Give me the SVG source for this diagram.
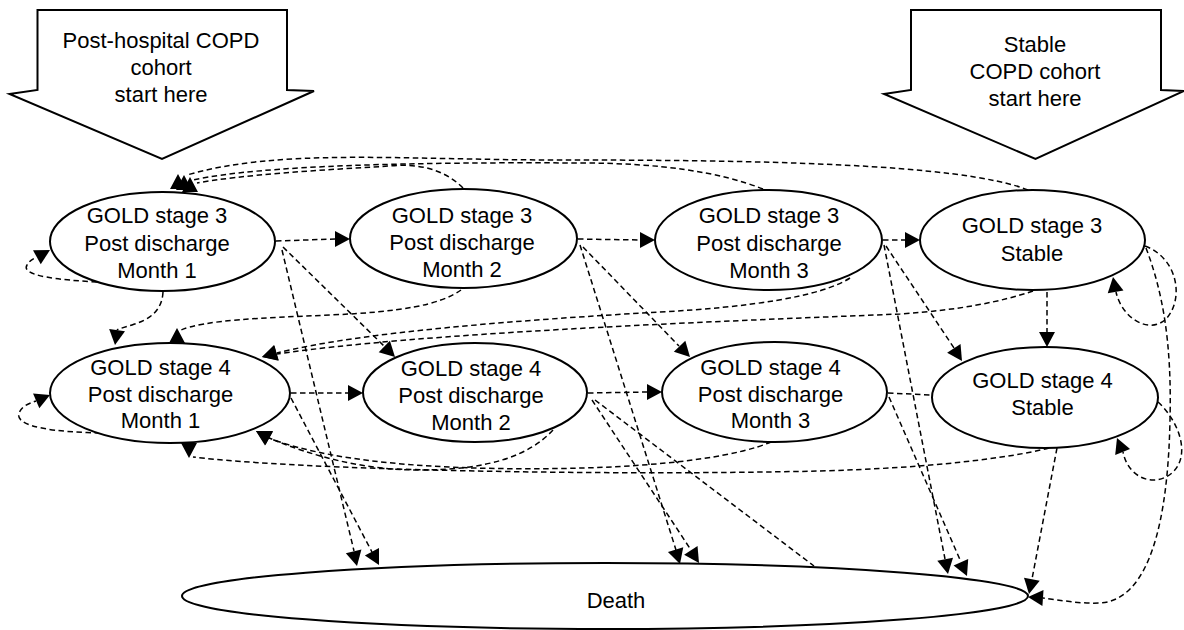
<svg xmlns="http://www.w3.org/2000/svg" xmlns:xlink="http://www.w3.org/1999/xlink" width="1184" height="630" viewBox="0 0 1184 630">
<style>
  .shape{fill:#fff;stroke:#000;stroke-width:2}
  .t{font-family:"Liberation Sans",Arial,sans-serif;font-size:22px;fill:#000;text-anchor:middle}
  .c path{fill:none;stroke:#000;stroke-width:1.5;stroke-dasharray:5.5 3.5}
  .c use{fill:#000}
</style>
<defs>
  <path id="ah" d="M0,0 L-15,-8 L-15,8 Z"/>
</defs>
<rect width="1184" height="630" fill="#fff"/>

<g id="start-posthospital">
  <path class="shape" d="M37.5,10 H287 V90 L314,91 L162,159 L9.5,94 L37.5,90 Z"/>
  <text class="t" x="161" y="48">Post-hospital COPD<tspan x="161" dy="27">cohort</tspan><tspan x="161" dy="27">start here</tspan></text>
</g>
<g id="start-stable">
  <path class="shape" d="M911,10 H1161 V90 L1184,91 L1035.5,159 L884,94 L911,90 Z"/>
  <text class="t" x="1035" y="52">Stable<tspan x="1035" dy="27">COPD cohort</tspan><tspan x="1035" dy="27">start here</tspan></text>
</g>

<g id="connectors" class="c">
  <g id="c-e1-e2"><path d="M276,241 L335,239"/><use xlink:href="#ah" transform="translate(350,239)"/></g>
  <g id="c-e2-e3"><path d="M578,239 L640,240"/><use xlink:href="#ah" transform="translate(655,240)"/></g>
  <g id="c-e3-e4"><path d="M883,240 L905,240"/><use xlink:href="#ah" transform="translate(920,240)"/></g>
  <g id="c-e5-e6"><path d="M291,393 L348,393"/><use xlink:href="#ah" transform="translate(363,393)"/></g>
  <g id="c-e6-e7"><path d="M588,393 L647,392"/><use xlink:href="#ah" transform="translate(662,392)"/></g>
  <g id="c-e7-e8"><path d="M888,393 L932,395"/></g>

  <g id="c-e1-loop"><path d="M97,282 C60,280 20,276 27,265 C30,260 33,259 37,257"/><use xlink:href="#ah" transform="translate(50,250) rotate(-29)"/></g>
  <g id="c-e5-loop"><path d="M100,433 C60,432 14,428 19,413 C22,406 28,404 36,401"/><use xlink:href="#ah" transform="translate(50,395) rotate(-23)"/></g>
  <g id="c-e4-loop"><path d="M1145,246 C1178,258 1185,300 1165,320 C1148,334 1122,318 1116,292"/><use xlink:href="#ah" transform="translate(1113,277) rotate(-100)"/></g>
  <g id="c-e8-loop"><path d="M1158,402 C1178,420 1192,455 1172,473 C1154,488 1128,478 1123,452"/><use xlink:href="#ah" transform="translate(1117,438) rotate(-112)"/></g>

  <g id="c-e1-e5"><path d="M163,292 C162,312 148,320 132,325 C122,328 118,329 117,330"/><use xlink:href="#ah" transform="translate(115,345) rotate(98)"/></g>
  <g id="c-e4-e8"><path d="M1047,292 L1047,332"/><use xlink:href="#ah" transform="translate(1047,347) rotate(90)"/></g>

  <g id="c-e4-e1"><path d="M1028,190 C960,163 750,160 560,160 C400,160 280,148 187,175"/><use xlink:href="#ah" transform="translate(178,174) rotate(-90)"/></g>
  <g id="c-e3-e1"><path d="M763,189 C720,172 660,163 580,163 C420,162 260,165 193,180"/><use xlink:href="#ah" transform="translate(184,175) rotate(-90)"/></g>
  <g id="c-e2-e1"><path d="M463,188 C445,170 420,163 390,166 C320,170 240,175 197,183"/><use xlink:href="#ah" transform="translate(190,177) rotate(-90)"/></g>

  <g id="c-e2-e5"><path d="M461,290 C440,305 400,312 330,315 C260,318 205,320 181,330"/><use xlink:href="#ah" transform="translate(177,328) rotate(-90)"/></g>
  <g id="c-e3-e5"><path d="M850,278 C820,297 750,307 660,312 C520,320 360,332 277,353"/><use xlink:href="#ah" transform="translate(262,357) rotate(165)"/></g>
  <g id="c-e4-e5"><path d="M1033,291 C1000,302 960,310 900,314 C700,322 420,333 277,354"/><use xlink:href="#ah" transform="translate(262,357) rotate(163)"/></g>

  <g id="c-e6-e5"><path d="M553,430 C530,455 490,470 420,470 C360,470 310,455 269,438"/><use xlink:href="#ah" transform="translate(256,431) rotate(208)"/></g>
  <g id="c-e7-e5"><path d="M771,442 C740,455 680,465 584,468 C470,471 340,466 269,438"/><use xlink:href="#ah" transform="translate(256,431) rotate(210)"/></g>
  <g id="c-e8-e5"><path d="M1049,448 C1010,458 930,468 820,471 C600,476 300,470 193,457"/><use xlink:href="#ah" transform="translate(189,458) rotate(90)"/></g>

  <g id="c-e1-e6"><path d="M283,247 L384,346"/><use xlink:href="#ah" transform="translate(395,357) rotate(44.5)"/></g>
  <g id="c-e2-e7"><path d="M583,247 L679,346"/><use xlink:href="#ah" transform="translate(690,357) rotate(46)"/></g>
  <g id="c-e3-e8"><path d="M886,246 L954,348"/><use xlink:href="#ah" transform="translate(962,361) rotate(57)"/></g>

  <g id="c-e1-death"><path d="M282,250 L354,551"/><use xlink:href="#ah" transform="translate(357,566) rotate(77)"/></g>
  <g id="c-e5-death"><path d="M291,398 L372,552"/><use xlink:href="#ah" transform="translate(379,565) rotate(62)"/></g>
  <g id="c-e2-death"><path d="M580,245 L676,550"/><use xlink:href="#ah" transform="translate(680,564) rotate(73)"/></g>
  <g id="c-e6-death"><path d="M592,400 L691,550"/><use xlink:href="#ah" transform="translate(699,563) rotate(57)"/></g>
  <g id="c-e6-death2"><path d="M595,400 L814,566"/></g>
  <g id="c-e3-death"><path d="M884,245 L945,559"/><use xlink:href="#ah" transform="translate(948,574) rotate(79)"/></g>
  <g id="c-e7-death"><path d="M889,397 L961,562"/><use xlink:href="#ah" transform="translate(967,576) rotate(66)"/></g>
  <g id="c-e8-death"><path d="M1057,448 L1032,579"/><use xlink:href="#ah" transform="translate(1029,594) rotate(101)"/></g>
  <g id="c-e4-death"><path d="M1146,248 C1162,290 1172,340 1170,420 C1168,520 1150,600 1100,603 C1080,604 1060,600 1043,598"/><use xlink:href="#ah" transform="translate(1028,597) rotate(184)"/></g>
</g>

<g id="e1">
  <ellipse class="shape" cx="162.5" cy="241.5" rx="112.5" ry="49.5"/>
  <text class="t" x="157" y="223">GOLD stage 3<tspan x="157" dy="28">Post discharge</tspan><tspan x="157" dy="27">Month 1</tspan></text>
</g>
<g id="e2">
  <ellipse class="shape" cx="463.5" cy="238.5" rx="113.5" ry="49.5"/>
  <text class="t" x="462" y="223">GOLD stage 3<tspan x="462" dy="27">Post discharge</tspan><tspan x="462" dy="27">Month 2</tspan></text>
</g>
<g id="e3">
  <ellipse class="shape" cx="768.5" cy="240" rx="113.5" ry="50"/>
  <text class="t" x="769" y="223">GOLD stage 3<tspan x="769" dy="28">Post discharge</tspan><tspan x="769" dy="27">Month 3</tspan></text>
</g>
<g id="e4">
  <ellipse class="shape" cx="1032.5" cy="240" rx="112.5" ry="50"/>
  <text class="t" x="1032" y="233">GOLD stage 3<tspan x="1032" dy="28">Stable</tspan></text>
</g>
<g id="e5">
  <ellipse class="shape" cx="170" cy="393" rx="120" ry="50"/>
  <text class="t" x="160.5" y="375">GOLD stage 4<tspan x="160.5" dy="27">Post discharge</tspan><tspan x="160.5" dy="26">Month 1</tspan></text>
</g>
<g id="e6">
  <ellipse class="shape" cx="475" cy="392.5" rx="112" ry="49.5"/>
  <text class="t" x="471" y="376">GOLD stage 4<tspan x="471" dy="27">Post discharge</tspan><tspan x="471" dy="27">Month 2</tspan></text>
</g>
<g id="e7">
  <ellipse class="shape" cx="774.5" cy="392" rx="112.5" ry="50"/>
  <text class="t" x="770.5" y="375">GOLD stage 4<tspan x="770.5" dy="27">Post discharge</tspan><tspan x="770.5" dy="26">Month 3</tspan></text>
</g>
<g id="e8">
  <ellipse class="shape" cx="1045" cy="397.5" rx="113" ry="50.5"/>
  <text class="t" x="1042.5" y="388">GOLD stage 4<tspan x="1042.5" dy="27">Stable</tspan></text>
</g>
<g id="death">
  <ellipse class="shape" cx="605" cy="596" rx="423" ry="33"/>
  <text class="t" x="616" y="608">Death</text>
</g>
</svg>
